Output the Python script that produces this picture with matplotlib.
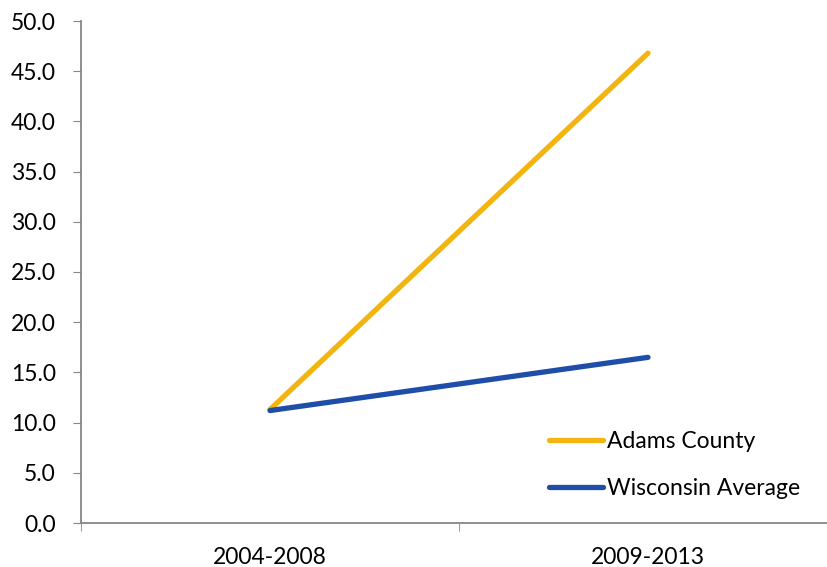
import matplotlib.pyplot as plt
from matplotlib.ticker import FixedLocator, FormatStrFormatter

periods = ["2004-2008", "2009-2013"]
adams = [11.3, 46.8]
wisconsin = [11.2, 16.5]

plt.rcParams["font.family"] = ["Lato", "DejaVu Sans"]

fig = plt.figure(figsize=(8.27, 5.67), dpi=100)
ax = fig.add_axes([81 / 827, 44 / 567, 756 / 827, 502 / 567])

x = list(range(len(periods)))
ax.plot(x, adams, color="#F2B40F", lw=3.8, solid_capstyle="round", label="Adams County")
ax.plot(x, wisconsin, color="#1F4EA8", lw=3.8, solid_capstyle="round", label="Wisconsin Average")

ax.set_xlim(-0.5, len(periods) - 0.5)
ax.set_ylim(0, 50)
ax.set_yticks([i * 5 for i in range(11)])
ax.yaxis.set_major_formatter(FormatStrFormatter("%.1f"))

# category labels sit between the boundary tick marks
ax.set_xticks(x)
ax.set_xticklabels(periods)
ax.tick_params(axis="x", which="major", length=0, pad=17)
ax.xaxis.set_minor_locator(FixedLocator([i - 0.5 for i in range(len(periods) + 1)]))
ax.tick_params(axis="x", which="minor", length=6, color="#868686", direction="out")
ax.tick_params(axis="y", length=6, color="#868686", pad=12)
ax.tick_params(labelsize=16.5, labelcolor="#000000")

for side in ("top", "right"):
    ax.spines[side].set_visible(False)
for side in ("left", "bottom"):
    ax.spines[side].set_color("#868686")
    ax.spines[side].set_linewidth(1.3)

leg = ax.legend(loc="lower left", bbox_to_anchor=(528 / 827, 47 / 567),
                bbox_transform=fig.transFigure, frameon=False, fontsize=16.5,
                handlelength=2.36, handletextpad=0.2, labelspacing=1.13)

fig.savefig("out.png", dpi=100)
